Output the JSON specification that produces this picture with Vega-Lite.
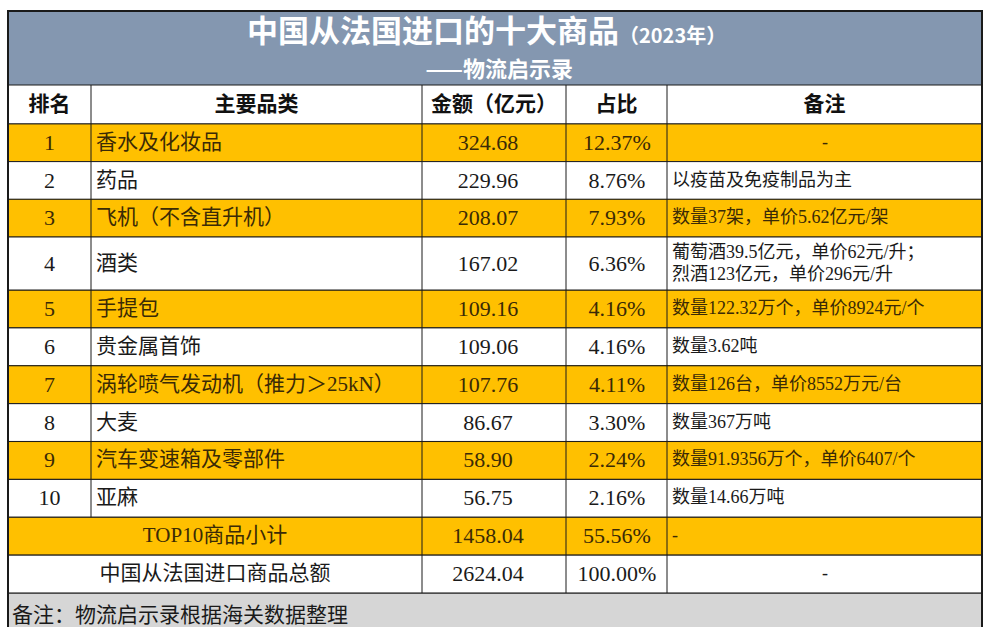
{
  "$schema": "https://vega.github.io/schema/vega-lite/v6.json",
  "width": 991,
  "height": 627,
  "autosize": {"type": "none"},
  "padding": 0,
  "background": "white",
  "config": {"view": {"stroke": null}, "text": {"baseline": "middle"}},
  "datasets": {
    "rows": [
      {"行": 1, "排名": 1, "品类": "香水及化妆品", "金额": 324.68, "占比": 0.1237, "备注": "-"},
      {"行": 2, "排名": 2, "品类": "药品", "金额": 229.96, "占比": 0.0876, "备注": "以疫苗及免疫制品为主"},
      {"行": 3, "排名": 3, "品类": "飞机（不含直升机）", "金额": 208.07, "占比": 0.0793, "备注": "数量37架，单价5.62亿元/架"},
      {"行": 4, "排名": 4, "品类": "酒类", "金额": 167.02, "占比": 0.0636, "备注": "葡萄酒39.5亿元，单价62元/升；\n烈酒123亿元，单价296元/升"},
      {"行": 5, "排名": 5, "品类": "手提包", "金额": 109.16, "占比": 0.0416, "备注": "数量122.32万个，单价8924元/个"},
      {"行": 6, "排名": 6, "品类": "贵金属首饰", "金额": 109.06, "占比": 0.0416, "备注": "数量3.62吨"},
      {"行": 7, "排名": 7, "品类": "涡轮喷气发动机（推力＞25kN）", "金额": 107.76, "占比": 0.0411, "备注": "数量126台，单价8552万元/台"},
      {"行": 8, "排名": 8, "品类": "大麦", "金额": 86.67, "占比": 0.0330, "备注": "数量367万吨"},
      {"行": 9, "排名": 9, "品类": "汽车变速箱及零部件", "金额": 58.90, "占比": 0.0224, "备注": "数量91.9356万个，单价6407/个"},
      {"行": 10, "排名": 10, "品类": "亚麻", "金额": 56.75, "占比": 0.0216, "备注": "数量14.66万吨"},
      {"行": 11, "排名": null, "品类": "TOP10商品小计", "金额": 1458.04, "占比": 0.5556, "备注": "-"},
      {"行": 12, "排名": null, "品类": "中国从法国进口商品总额", "金额": 2624.04, "占比": 1.0, "备注": "-"}
    ],
    "one": [{}]
  },
  "data": {"name": "rows"},
  "layer": [
    {
      "data": {"name": "one"},
      "mark": {"type": "rect", "fill": "#8497B0"},
      "encoding": {
        "x": {"value": 8}, "x2": {"value": 982},
        "y": {"datum": -1.5, "type": "quantitative", "axis": null, "scale": {"domain": [-1.5, -0.5, 0.5, 3.5, 4.5, 12.5, 13.5], "range": [11, 85, 124, 237, 290, 593, 627], "nice": false, "zero": false}},
        "y2": {"datum": -0.5}
      }
    },
    {
      "data": {"name": "one"},
      "mark": {"type": "rect", "fill": "#FFFFFF", "stroke": "#1a1a1a", "strokeWidth": 1},
      "encoding": {
        "x": {"value": 8}, "x2": {"value": 982},
        "y": {"datum": -0.5, "type": "quantitative", "axis": null, "scale": {"domain": [-1.5, -0.5, 0.5, 3.5, 4.5, 12.5, 13.5], "range": [11, 85, 124, 237, 290, 593, 627], "nice": false, "zero": false}},
        "y2": {"datum": 0.5}
      }
    },
    {
      "data": {"name": "one"},
      "mark": {"type": "rect", "fill": "#D6D6D6", "stroke": "#1a1a1a", "strokeWidth": 1},
      "encoding": {
        "x": {"value": 8}, "x2": {"value": 982},
        "y": {"datum": 12.5, "type": "quantitative", "axis": null, "scale": {"domain": [-1.5, -0.5, 0.5, 3.5, 4.5, 12.5, 13.5], "range": [11, 85, 124, 237, 290, 593, 627], "nice": false, "zero": false}},
        "y2": {"datum": 14}
      }
    },
    {
      "transform": [{"filter": "datum['行'] != 4"}],
      "mark": {"type": "rect", "stroke": "#1a1a1a", "strokeWidth": 1, "yOffset": -18.9, "y2Offset": 18.9},
      "encoding": {
        "x": {"value": 8}, "x2": {"value": 982},
        "y": {"field": "行", "type": "quantitative", "axis": null, "scale": {"domain": [-1.5, -0.5, 0.5, 3.5, 4.5, 12.5, 13.5], "range": [11, 85, 124, 237, 290, 593, 627], "nice": false, "zero": false}},
        "y2": {"field": "行"},
        "fill": {"condition": {"test": "datum['行'] % 2 == 1", "value": "#FFC000"}, "value": "#FFFFFF"}
      }
    },
    {
      "transform": [{"filter": "datum['行'] == 4"}],
      "mark": {"type": "rect", "stroke": "#1a1a1a", "strokeWidth": 1, "yOffset": -26.5, "y2Offset": 26.5, "fill": "#FFFFFF"},
      "encoding": {
        "x": {"value": 8}, "x2": {"value": 982},
        "y": {"field": "行", "type": "quantitative", "axis": null, "scale": {"domain": [-1.5, -0.5, 0.5, 3.5, 4.5, 12.5, 13.5], "range": [11, 85, 124, 237, 290, 593, 627], "nice": false, "zero": false}},
        "y2": {"field": "行"}
      }
    },
    {
      "data": {"name": "one"},
      "mark": {"type": "rule", "color": "#1a1a1a", "strokeWidth": 1},
      "encoding": {
        "x": {"value": 91},
        "y": {"datum": -0.5, "type": "quantitative", "axis": null, "scale": {"domain": [-1.5, -0.5, 0.5, 3.5, 4.5, 12.5, 13.5], "range": [11, 85, 124, 237, 290, 593, 627], "nice": false, "zero": false}},
        "y2": {"datum": 10.5}
      }
    },
    {
      "data": {"name": "one"},
      "mark": {"type": "rule", "color": "#1a1a1a", "strokeWidth": 1},
      "encoding": {
        "x": {"value": 422},
        "y": {"datum": -0.5, "type": "quantitative", "axis": null, "scale": {"domain": [-1.5, -0.5, 0.5, 3.5, 4.5, 12.5, 13.5], "range": [11, 85, 124, 237, 290, 593, 627], "nice": false, "zero": false}},
        "y2": {"datum": 12.5}
      }
    },
    {
      "data": {"name": "one"},
      "mark": {"type": "rule", "color": "#1a1a1a", "strokeWidth": 1},
      "encoding": {
        "x": {"value": 566},
        "y": {"datum": -0.5, "type": "quantitative", "axis": null, "scale": {"domain": [-1.5, -0.5, 0.5, 3.5, 4.5, 12.5, 13.5], "range": [11, 85, 124, 237, 290, 593, 627], "nice": false, "zero": false}},
        "y2": {"datum": 12.5}
      }
    },
    {
      "data": {"name": "one"},
      "mark": {"type": "rule", "color": "#1a1a1a", "strokeWidth": 1},
      "encoding": {
        "x": {"value": 667},
        "y": {"datum": -0.5, "type": "quantitative", "axis": null, "scale": {"domain": [-1.5, -0.5, 0.5, 3.5, 4.5, 12.5, 13.5], "range": [11, 85, 124, 237, 290, 593, 627], "nice": false, "zero": false}},
        "y2": {"datum": 12.5}
      }
    },
    {
      "data": {"name": "one"},
      "mark": {"type": "rect", "filled": false, "stroke": "#1a1a1a", "strokeWidth": 2},
      "encoding": {
        "x": {"value": 8}, "x2": {"value": 982},
        "y": {"datum": -1.5, "type": "quantitative", "axis": null, "scale": {"domain": [-1.5, -0.5, 0.5, 3.5, 4.5, 12.5, 13.5], "range": [11, 85, 124, 237, 290, 593, 627], "nice": false, "zero": false}},
        "y2": {"datum": 14}
      }
    },
    {
      "transform": [{"filter": "datum['行'] <= 10"}],
      "mark": {"type": "text", "align": "center", "font": "Liberation Serif, Noto Sans CJK SC", "fontSize": 22},
      "encoding": {
        "x": {"value": 49.5},
        "y": {"field": "行", "type": "quantitative", "axis": null, "scale": {"domain": [-1.5, -0.5, 0.5, 3.5, 4.5, 12.5, 13.5], "range": [11, 85, 124, 237, 290, 593, 627], "nice": false, "zero": false}},
        "text": {"field": "排名", "type": "nominal"},
        "color": {"condition": {"test": "datum['行'] % 2 == 1", "value": "#3a2a06"}, "value": "#1a1a1a"}
      }
    },
    {
      "transform": [{"filter": "datum['行'] <= 10"}],
      "mark": {"type": "text", "align": "left", "font": "Liberation Serif, Noto Sans CJK SC", "fontSize": 21},
      "encoding": {
        "x": {"value": 96},
        "y": {"field": "行", "type": "quantitative", "axis": null, "scale": {"domain": [-1.5, -0.5, 0.5, 3.5, 4.5, 12.5, 13.5], "range": [11, 85, 124, 237, 290, 593, 627], "nice": false, "zero": false}},
        "text": {"field": "品类", "type": "nominal"},
        "color": {"condition": {"test": "datum['行'] % 2 == 1", "value": "#3a2a06"}, "value": "#1a1a1a"}
      }
    },
    {
      "transform": [{"filter": "datum['行'] > 10"}],
      "mark": {"type": "text", "align": "center", "font": "Liberation Serif, Noto Sans CJK SC", "fontSize": 21},
      "encoding": {
        "x": {"value": 215},
        "y": {"field": "行", "type": "quantitative", "axis": null, "scale": {"domain": [-1.5, -0.5, 0.5, 3.5, 4.5, 12.5, 13.5], "range": [11, 85, 124, 237, 290, 593, 627], "nice": false, "zero": false}},
        "text": {"field": "品类", "type": "nominal"},
        "color": {"condition": {"test": "datum['行'] % 2 == 1", "value": "#3a2a06"}, "value": "#1a1a1a"}
      }
    },
    {
      "mark": {"type": "text", "align": "center", "font": "Liberation Serif, Noto Sans CJK SC", "fontSize": 22},
      "encoding": {
        "x": {"value": 488},
        "y": {"field": "行", "type": "quantitative", "axis": null, "scale": {"domain": [-1.5, -0.5, 0.5, 3.5, 4.5, 12.5, 13.5], "range": [11, 85, 124, 237, 290, 593, 627], "nice": false, "zero": false}},
        "text": {"field": "金额", "type": "quantitative", "format": ".2f"},
        "color": {"condition": {"test": "datum['行'] % 2 == 1", "value": "#3a2a06"}, "value": "#1a1a1a"}
      }
    },
    {
      "mark": {"type": "text", "align": "center", "font": "Liberation Serif, Noto Sans CJK SC", "fontSize": 22},
      "encoding": {
        "x": {"value": 617},
        "y": {"field": "行", "type": "quantitative", "axis": null, "scale": {"domain": [-1.5, -0.5, 0.5, 3.5, 4.5, 12.5, 13.5], "range": [11, 85, 124, 237, 290, 593, 627], "nice": false, "zero": false}},
        "text": {"field": "占比", "type": "quantitative", "format": ".2%"},
        "color": {"condition": {"test": "datum['行'] % 2 == 1", "value": "#3a2a06"}, "value": "#1a1a1a"}
      }
    },
    {
      "transform": [{"filter": "(datum['备注'] != '-' || datum['行'] == 11) && datum['行'] != 4"}],
      "mark": {"type": "text", "align": "left", "font": "Liberation Serif, Noto Sans CJK SC", "fontSize": 18},
      "encoding": {
        "x": {"value": 672},
        "y": {"field": "行", "type": "quantitative", "axis": null, "scale": {"domain": [-1.5, -0.5, 0.5, 3.5, 4.5, 12.5, 13.5], "range": [11, 85, 124, 237, 290, 593, 627], "nice": false, "zero": false}},
        "text": {"field": "备注", "type": "nominal"},
        "color": {"condition": {"test": "datum['行'] % 2 == 1", "value": "#3a2a06"}, "value": "#1a1a1a"}
      }
    },
    {
      "transform": [{"filter": "datum['行'] == 4"}],
      "mark": {"type": "text", "align": "left", "font": "Liberation Serif, Noto Sans CJK SC", "fontSize": 18, "lineBreak": "\n", "lineHeight": 22, "dy": -11},
      "encoding": {
        "x": {"value": 672},
        "y": {"field": "行", "type": "quantitative", "axis": null, "scale": {"domain": [-1.5, -0.5, 0.5, 3.5, 4.5, 12.5, 13.5], "range": [11, 85, 124, 237, 290, 593, 627], "nice": false, "zero": false}},
        "text": {"field": "备注", "type": "nominal"},
        "color": {"value": "#1a1a1a"}
      }
    },
    {
      "transform": [{"filter": "datum['备注'] == '-' && datum['行'] != 11"}],
      "mark": {"type": "text", "align": "center", "font": "Liberation Serif, Noto Sans CJK SC", "fontSize": 18},
      "encoding": {
        "x": {"value": 825},
        "y": {"field": "行", "type": "quantitative", "axis": null, "scale": {"domain": [-1.5, -0.5, 0.5, 3.5, 4.5, 12.5, 13.5], "range": [11, 85, 124, 237, 290, 593, 627], "nice": false, "zero": false}},
        "text": {"field": "备注", "type": "nominal"},
        "color": {"condition": {"test": "datum['行'] % 2 == 1", "value": "#3a2a06"}, "value": "#1a1a1a"}
      }
    },
    {
      "data": {"name": "one"},
      "mark": {"type": "text", "text": "排名", "align": "center", "font": "Noto Sans CJK SC", "fontWeight": "bold", "fontSize": 21, "color": "#111111"},
      "encoding": {
        "x": {"value": 49.5},
        "y": {"datum": 0, "type": "quantitative", "axis": null, "scale": {"domain": [-1.5, -0.5, 0.5, 3.5, 4.5, 12.5, 13.5], "range": [11, 85, 124, 237, 290, 593, 627], "nice": false, "zero": false}}
      }
    },
    {
      "data": {"name": "one"},
      "mark": {"type": "text", "text": "主要品类", "align": "center", "font": "Noto Sans CJK SC", "fontWeight": "bold", "fontSize": 21, "color": "#111111"},
      "encoding": {
        "x": {"value": 256.5},
        "y": {"datum": 0, "type": "quantitative", "axis": null, "scale": {"domain": [-1.5, -0.5, 0.5, 3.5, 4.5, 12.5, 13.5], "range": [11, 85, 124, 237, 290, 593, 627], "nice": false, "zero": false}}
      }
    },
    {
      "data": {"name": "one"},
      "mark": {"type": "text", "text": "金额（亿元）", "align": "center", "font": "Noto Sans CJK SC", "fontWeight": "bold", "fontSize": 21, "color": "#111111"},
      "encoding": {
        "x": {"value": 494},
        "y": {"datum": 0, "type": "quantitative", "axis": null, "scale": {"domain": [-1.5, -0.5, 0.5, 3.5, 4.5, 12.5, 13.5], "range": [11, 85, 124, 237, 290, 593, 627], "nice": false, "zero": false}}
      }
    },
    {
      "data": {"name": "one"},
      "mark": {"type": "text", "text": "占比", "align": "center", "font": "Noto Sans CJK SC", "fontWeight": "bold", "fontSize": 21, "color": "#111111"},
      "encoding": {
        "x": {"value": 616.5},
        "y": {"datum": 0, "type": "quantitative", "axis": null, "scale": {"domain": [-1.5, -0.5, 0.5, 3.5, 4.5, 12.5, 13.5], "range": [11, 85, 124, 237, 290, 593, 627], "nice": false, "zero": false}}
      }
    },
    {
      "data": {"name": "one"},
      "mark": {"type": "text", "text": "备注", "align": "center", "font": "Noto Sans CJK SC", "fontWeight": "bold", "fontSize": 21, "color": "#111111"},
      "encoding": {
        "x": {"value": 824.5},
        "y": {"datum": 0, "type": "quantitative", "axis": null, "scale": {"domain": [-1.5, -0.5, 0.5, 3.5, 4.5, 12.5, 13.5], "range": [11, 85, 124, 237, 290, 593, 627], "nice": false, "zero": false}}
      }
    },
    {
      "data": {"name": "one"},
      "mark": {"type": "text", "text": "中国从法国进口的十大商品", "align": "left", "font": "Noto Sans CJK SC", "fontWeight": "bold", "fontSize": 31, "color": "#FFFFFF", "dy": -15},
      "encoding": {
        "x": {"value": 247},
        "y": {"datum": -1, "type": "quantitative", "axis": null, "scale": {"domain": [-1.5, -0.5, 0.5, 3.5, 4.5, 12.5, 13.5], "range": [11, 85, 124, 237, 290, 593, 627], "nice": false, "zero": false}}
      }
    },
    {
      "data": {"name": "one"},
      "mark": {"type": "text", "text": "（2023年）", "align": "left", "font": "Noto Sans CJK SC", "fontWeight": "bold", "fontSize": 20, "color": "#FFFFFF", "dy": -11},
      "encoding": {
        "x": {"value": 619},
        "y": {"datum": -1, "type": "quantitative", "axis": null, "scale": {"domain": [-1.5, -0.5, 0.5, 3.5, 4.5, 12.5, 13.5], "range": [11, 85, 124, 237, 290, 593, 627], "nice": false, "zero": false}}
      }
    },
    {
      "data": {"name": "one"},
      "mark": {"type": "text", "text": "——物流启示录", "align": "right", "font": "Noto Sans CJK SC", "fontWeight": "bold", "fontSize": 22, "color": "#FFFFFF", "dy": 22},
      "encoding": {
        "x": {"value": 573},
        "y": {"datum": -1, "type": "quantitative", "axis": null, "scale": {"domain": [-1.5, -0.5, 0.5, 3.5, 4.5, 12.5, 13.5], "range": [11, 85, 124, 237, 290, 593, 627], "nice": false, "zero": false}}
      }
    },
    {
      "data": {"name": "one"},
      "mark": {"type": "text", "text": "备注：物流启示录根据海关数据整理", "align": "left", "font": "Liberation Serif, Noto Sans CJK SC", "fontSize": 21, "color": "#1a1a1a", "dy": 6},
      "encoding": {
        "x": {"value": 12},
        "y": {"datum": 13, "type": "quantitative", "axis": null, "scale": {"domain": [-1.5, -0.5, 0.5, 3.5, 4.5, 12.5, 13.5], "range": [11, 85, 124, 237, 290, 593, 627], "nice": false, "zero": false}}
      }
    }
  ]
}
